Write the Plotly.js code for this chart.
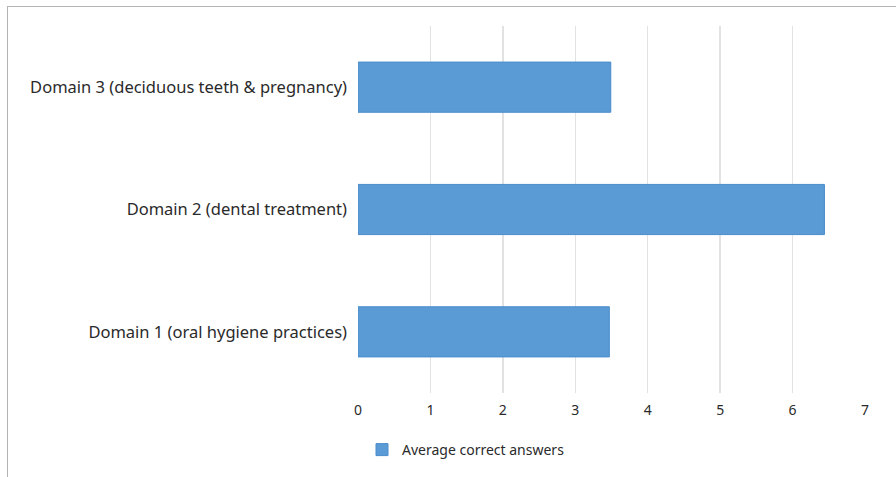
<!DOCTYPE html>
<html>
<head>
<meta charset="utf-8">
<script src="https://cdn.plot.ly/plotly-3.0.1.min.js"></script>
<style>
  html, body { margin: 0; padding: 0; background: #fff; }
  #wrap { position: relative; width: 896px; height: 477px; overflow: hidden; }
  #chart { width: 896px; height: 477px; }
  #frame { position: absolute; left: 7px; top: 6px; width: 1000px; height: 1000px;
           border-left: 1.5px solid #b4b4b4; border-top: 1.5px solid #b4b4b4; pointer-events: none; }
</style>
</head>
<body>
<div id="wrap">
  <div id="chart"></div>
  <div id="frame"></div>
</div>
<script>
const categories = [
  "Domain 1 (oral hygiene practices)",
  "Domain 2 (dental treatment)",
  "Domain 3 (deciduous teeth & pregnancy)"
];
const averageCorrect = [3.47, 6.44, 3.49];
const seriesName = "Average correct answers";
const xTicks = [0, 1, 2, 3, 4, 5, 6, 7];

const trace = {
  type: "bar",
  orientation: "h",
  y: categories,
  x: averageCorrect,
  name: seriesName,
  width: 0.41,
  marker: { color: "#5a9bd5", line: { color: "#4a8ccb", width: 1 } },
  showlegend: true,
  hoverinfo: "x+y"
};

const layout = {
  width: 896,
  height: 477,
  margin: { l: 358, r: 31, t: 26, b: 84, autoexpand: false },
  paper_bgcolor: "#ffffff",
  plot_bgcolor: "#ffffff",
  font: { family: "Noto Sans, sans-serif", color: "#2a2a2a", size: 16 },
  xaxis: {
    range: [0, 7],
    tickvals: xTicks,
    ticktext: xTicks.map(String),
    showgrid: true,
    gridcolor: "#e2e2e2",
    gridwidth: 1.5,
    zeroline: false,
    showline: false,
    ticks: "",
    automargin: false,
    ticklabelstandoff: 7,
    tickfont: { size: 14, color: "#2a2a2a" },
    fixedrange: true
  },
  yaxis: {
    type: "category",
    categoryorder: "array",
    categoryarray: categories,
    range: [-0.5, 2.5],
    showgrid: false,
    zeroline: false,
    showline: false,
    ticks: "",
    automargin: false,
    ticklabelstandoff: 10,
    tickfont: { size: 16.5, color: "#2a2a2a" },
    fixedrange: true
  },
  showlegend: true,
  legend: {
    orientation: "h",
    xref: "container",
    yref: "container",
    x: 362 / 896,
    xanchor: "left",
    y: (477 - 450) / 477,
    yanchor: "middle",
    font: { size: 14, color: "#2a2a2a" },
    itemwidth: 30
  },
  bargap: 0.59
};

Plotly.newPlot("chart", [trace], layout, { displayModeBar: false, staticPlot: true });
</script>
</body>
</html>
